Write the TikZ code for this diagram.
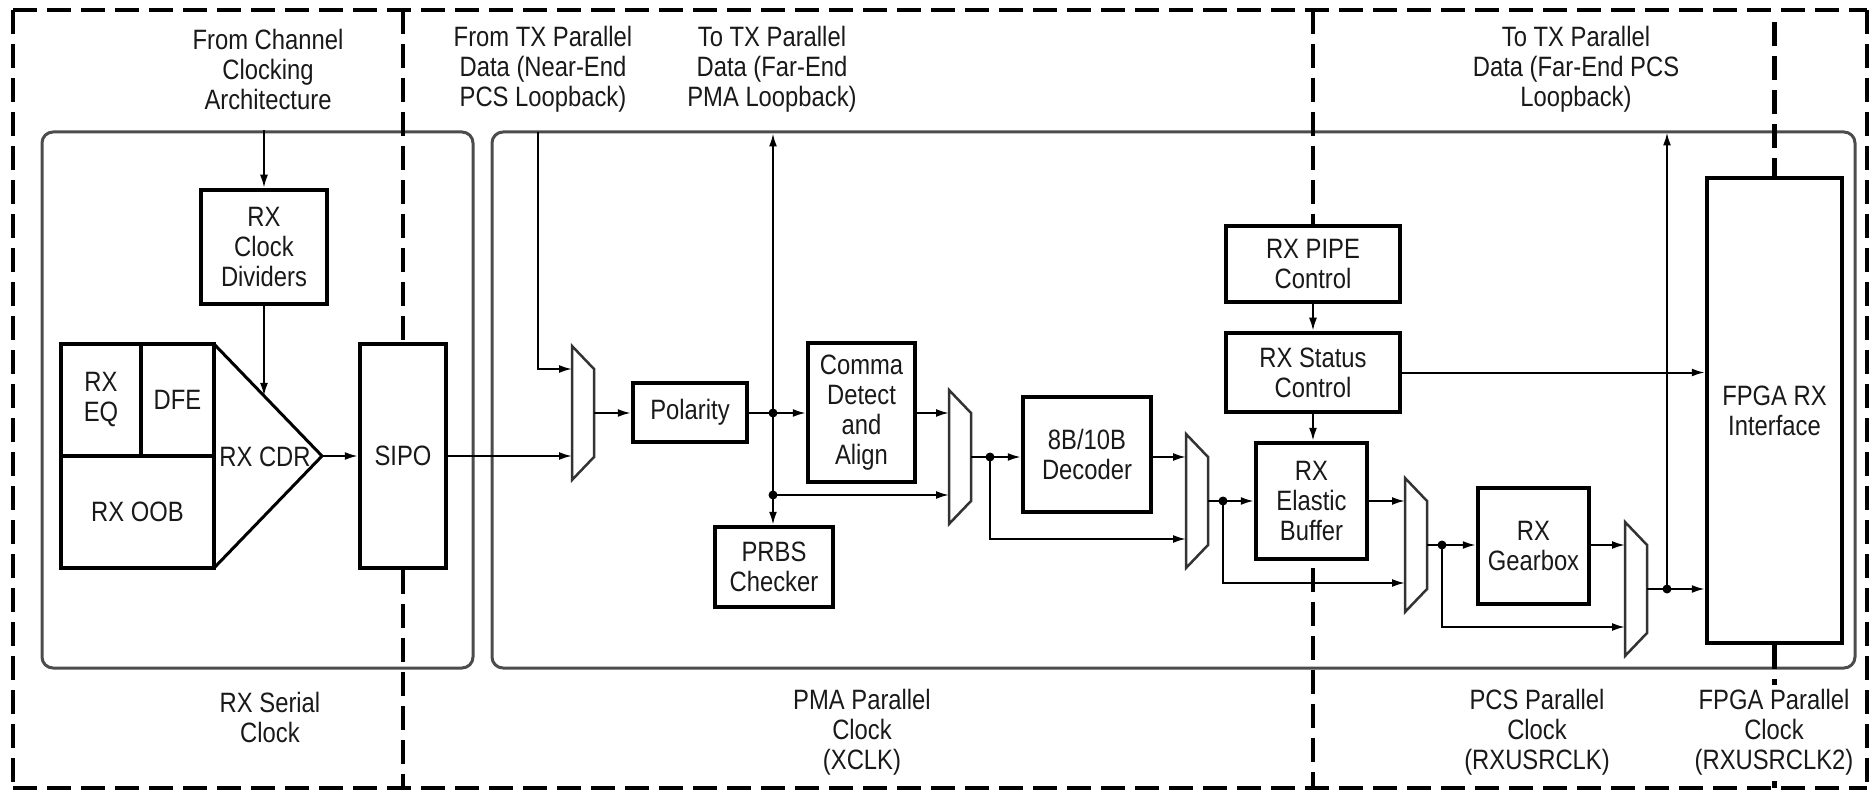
\documentclass[tikz,border=0pt]{standalone}
\usepackage{fontspec}
\setmainfont{Liberation Sans}[FakeStretch=0.85]
\usetikzlibrary{arrows.meta,calc}
\newcommand{\lblfont}{\fontsize{28}{30}\selectfont}
\begin{document}
\begin{tikzpicture}[x=1pt,y=-1pt,
  every node/.style={font=\lblfont, text=black!90},
  blk/.style={draw, line width=4.5pt, inner sep=0pt, align=center},
  cont/.style={draw=black!70, line width=3pt, rounded corners=11pt, inner sep=0pt},
  lab/.style={align=center, inner sep=0pt},
  wire/.style={line width=2pt},
  arr/.style={wire, -{Latex[length=13pt,width=8pt]}},
  bound/.style={line width=4.5pt, dash pattern=on 24pt off 10pt},
  dot/.style={circle, fill=black, inner sep=0pt, minimum size=9pt},
  muxline/.style={draw=black!80, line width=2.5pt, line join=miter},
  mux/.pic={
    \draw[muxline] (0,-67) -- (22,-44) -- (22,44) -- (0,67) -- cycle;
    \coordinate (-a) at (0,-44);
    \coordinate (-b) at (0,38);
    \coordinate (-o) at (22,0);
  }]
\useasboundingbox (0,0) rectangle (1872,794);

% outer clock-domain frame
\coordinate (tl) at (13,10);
\coordinate (tr) at (1867,10);
\coordinate (bl) at (13,788);
\coordinate (br) at (1867,788);
\draw[bound] (tl) -- (tr);
\draw[bound] (tl) -- (bl);
\draw[bound] (bl) -- (br);
\draw[bound] (tr) -- (br);

% PMA / PCS containers
\node[cont, minimum width=431pt, minimum height=536pt] (lcont) at (257.5,400) {};
\node[cont, minimum width=1363pt, minimum height=536pt] (rcont) at (1173.5,400) {};

% serial front end
\node[blk, minimum width=126pt, minimum height=114pt] (clkdiv) at (264,247) {RX\\Clock\\Dividers};
\node[blk, minimum width=80pt, minimum height=112pt] (eq) at (101,400) {RX\\EQ};
\node[blk, minimum width=73pt, minimum height=112pt] (dfe) at (177.5,400) {DFE};
\node[blk, minimum width=153pt, minimum height=112pt] (oob) at (137.5,512) {RX OOB};
\coordinate (cdrtop) at (214,344);
\coordinate (cdrtip) at (322,456);
\coordinate (cdrbot) at (214,568);
\draw[line width=3pt, line join=miter] (cdrtop) -- (cdrtip) -- (cdrbot);
\node[lab] (cdrlbl) at (265,457) {RX CDR};
\node[blk, minimum width=86pt, minimum height=224pt] (sipo) at (403,456) {SIPO};

% parallel data path blocks
\node[blk, minimum width=114pt, minimum height=59pt] (polarity) at (690,412.5) {Polarity};
\node[blk, minimum width=107pt, minimum height=139pt] (comma) at (861.5,412.5) {Comma\\Detect\\and\\Align};
\node[blk, minimum width=118pt, minimum height=80pt] (prbs) at (774,567) {PRBS\\Checker};
\node[blk, minimum width=128pt, minimum height=115pt] (decoder) at (1087,454.5) {8B/10B\\Decoder};
\node[blk, minimum width=174pt, minimum height=76pt] (pipe) at (1313,264) {RX PIPE\\Control};
\node[blk, minimum width=174pt, minimum height=79pt] (status) at (1313,372.5) {RX Status\\Control};
\node[blk, minimum width=111pt, minimum height=116pt] (ebuf) at (1311.5,501) {RX\\Elastic\\Buffer};
\node[blk, minimum width=111pt, minimum height=116pt] (gearbox) at (1533.5,546) {RX\\Gearbox};
\node[blk, minimum width=135pt, minimum height=465pt] (fpga) at (1774.5,410.5) {FPGA RX\\Interface};

% bypass multiplexers
\pic (ma) at (572,413) {mux};
\pic (mb) at (949,457) {mux};
\pic (mc) at (1186,501) {mux};
\pic (md) at (1405,545) {mux};
\pic (me) at (1625,589) {mux};

% junction dots
\node[dot] (d1) at (773,413) {};
\node[dot] (d2) at (773,495) {};
\node[dot] (d3) at (990,457) {};
\node[dot] (d4) at (1223,501) {};
\node[dot] (d5) at (1442,545) {};
\node[dot] (d6) at (1667,589) {};

% clock-domain separators
\draw[bound] (sipo.north |- tl) -- (sipo.north);
\draw[bound] (sipo.south) -- (sipo.south |- bl);
\draw[bound] (pipe.north |- tl) -- (pipe.north);
\draw[bound, dash phase=27pt] (pipe.north |- ebuf.south) -- (pipe.north |- bl);
\draw[bound] ($(fpga.north |- tl)+(0,12)$) -- (fpga.north);
\draw[bound] (fpga.south) -- (fpga.south |- bl);

% serial side connections
\draw[arr] (clkdiv.north |- lcont.north) -- (clkdiv.north);
\coordinate (cdrhit) at ($(cdrtop)!0.463!(cdrtip)$);
\draw[arr] (clkdiv.south) -- (clkdiv.south |- cdrhit);
\draw[arr] (cdrtip) -- (sipo.west |- cdrtip);
\draw[arr] (sipo.east) -- (sipo.east -| ma-a);

% near-end PCS loopback input
\coordinate (nearend) at (538,132);
\draw[arr] (nearend) |- (ma-a);

% PMA parallel path
\draw[arr] (ma-o) -- (polarity.west |- ma-o);
\draw[arr] (polarity.east |- d1) -- (comma.west |- d1);
\draw[arr] (d2.center) -- ($(d2 |- rcont.north)+(0,3)$);
\draw[arr] (d2.center) -- (d2 |- prbs.north);
\draw[arr] (d2.center) -- (mb-b);
\draw[arr] (comma.east |- mb-a) -- (mb-a);

% decoder stage
\draw[wire] (mb-o) -- (d3.center);
\draw[arr] (d3.center) -- (decoder.west |- d3);
\draw[arr] (d3.center) |- (mc-b);
\draw[arr] (decoder.east |- mc-a) -- (mc-a);

% elastic buffer stage
\draw[wire] (mc-o) -- (d4.center);
\draw[arr] (d4.center) -- (ebuf.west |- d4);
\draw[arr] (d4.center) |- (md-b);
\draw[arr] (ebuf.east |- md-a) -- (md-a);

% gearbox stage
\draw[wire] (md-o) -- (d5.center);
\draw[arr] (d5.center) -- (gearbox.west |- d5);
\draw[arr] (d5.center) |- (me-b);
\draw[arr] (gearbox.east |- me-a) -- (me-a);

% to the FPGA interface and far-end PCS loopback
\draw[wire] (me-o) -- (d6.center);
\draw[arr] (d6.center) -- (fpga.west |- d6);
\draw[arr] (d6.center) -- ($(d6 |- rcont.north)+(0,2)$);

% control blocks
\draw[arr] (pipe.south) -- (pipe.south |- status.north);
\draw[arr] (status.south) -- (status.south |- ebuf.north);
\draw[arr] (status.east) -- (fpga.west |- status.east);

% clock-domain captions
\node[lab] (capclk) at (268,69) {From Channel\\Clocking\\Architecture};
\node[lab] (capnear) at (543,69) {From TX Parallel\\Data (Near-End\\PCS Loopback)};
\node[lab] (cappma) at (772,69) {To TX Parallel\\Data (Far-End\\PMA Loopback)};
\node[lab] (cappcs) at (1576,69) {To TX Parallel\\Data (Far-End PCS\\Loopback)};
\node[lab] (capser) at (270,717) {RX Serial\\Clock};
\node[lab] (cappmaclk) at (862,732) {PMA Parallel\\Clock\\(XCLK)};
\node[lab] (cappcsclk) at (1537,732) {PCS Parallel\\Clock\\(RXUSRCLK)};
\node[lab, fill=white, inner ysep=4pt] (capfpgaclk) at (1774,732) {FPGA Parallel\\Clock\\(RXUSRCLK2)};
\end{tikzpicture}
\end{document}
